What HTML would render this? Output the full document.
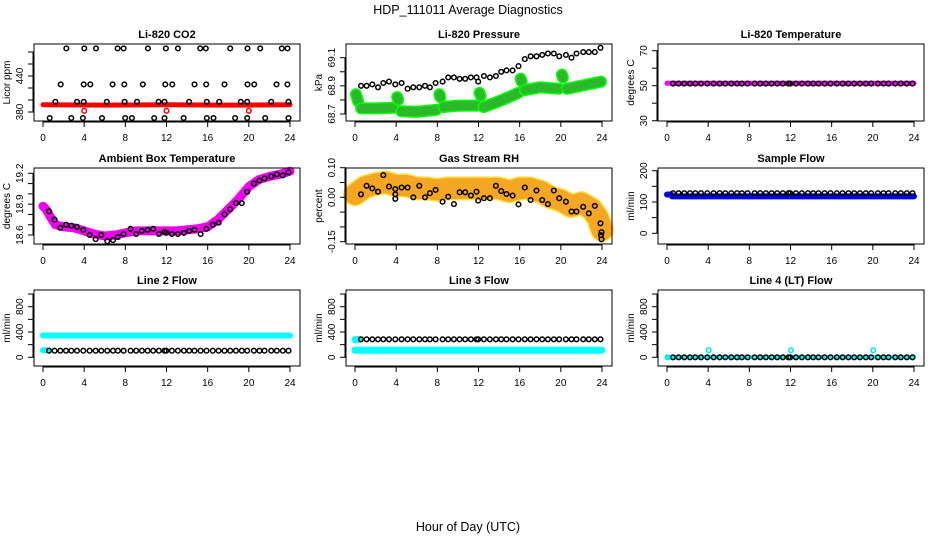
<!DOCTYPE html>
<html><head><meta charset="utf-8"><style>
body{margin:0;background:#fff}
svg{display:block;font-family:"Liberation Sans",sans-serif}
</style></head><body>
<svg id="chart" width="936" height="540" viewBox="0 0 936 540" xmlns="http://www.w3.org/2000/svg">
<rect width="936" height="540" fill="#fff"/>
<text x="468" y="14" font-size="12.5" text-anchor="middle">HDP_111011  Average Diagnostics</text>
<text x="468" y="531" font-size="12.5" text-anchor="middle">Hour of Day (UTC)</text>
</svg>
<script>
const xTicks=[0,4,8,12,16,20,24];
const obsHours=[0.58,1.13,1.68,2.23,2.75,3.30,3.92,4.53,5.11,5.66,6.25,6.80,7.28,7.83,8.51,9.06,9.61,10.16,10.71,11.26,11.81,11.97,12.52,13.11,13.69,14.21,14.72,15.31,15.89,16.50,17.06,17.64,18.19,18.74,19.32,19.84,20.49,21.04,21.52,22.17,22.72,23.30,23.85];
const co2Hrs=[2.26,4.01,5.15,7.25,7.83,10.19,11.94,13.11,15.27,15.82,18.19,19.87,21.1,23.2,23.76,
1.72,3.95,4.6,6.76,7.9,9.7,11.88,12.56,14.72,15.86,17.64,19.87,20.52,22.69,23.75,
1.2,3.3,3.95,6.2,7.93,9.13,11.23,11.81,14.2,15.92,17.12,19.22,19.84,22.17,23.85,
0.65,2.75,3.88,5.73,7.99,8.64,10.8,11.81,13.66,15.92,16.57,18.67,19.84,21.59,23.85];
const co2Vals=[486,486,486,486,486,486,486,486,486,486,486,486,486,486,486,
426,426,426,426,426,426,426,426,426,426,426,426,426,426,426,
397,397,397,397,397,397,397,397,397,397,397,397,397,397,397,
370,370,370,370,370,370,370,370,370,370,370,370,370,370,370];
const co2BandHrs=[0,6,12,18,24];
const co2BandVals=[392,391.5,392,391.5,392];
const co2OutHrs=[4,12,20];
const co2OutVals=[382,382,382];
const presVals=[68.90,68.90,68.91,68.89,68.92,68.93,68.91,68.92,68.88,68.89,68.89,68.90,68.89,68.92,68.93,68.96,68.96,68.95,68.95,68.96,68.96,68.93,68.97,68.96,68.97,69.00,69.01,69.01,69.04,69.09,69.11,69.11,69.12,69.13,69.13,69.11,69.12,69.10,69.13,69.14,69.14,69.14,69.17];
const presBandHrs=[0.1,0.3,null,0.6,2,3.8,null,4.1,4.2,null,4.5,6,7.9,null,8.2,8.3,null,8.6,10,11.9,null,12.1,12.2,null,12.5,14,15.9,null,16.1,16.2,null,16.5,18,19.8,null,20.1,20.2,null,20.6,22,23.9];
const presBandVals=[68.84,68.79,null,68.74,68.74,68.745,null,68.82,68.80,null,68.72,68.715,68.73,null,68.84,68.82,null,68.75,68.76,68.76,null,68.85,68.83,null,68.75,68.79,68.85,null,68.95,68.93,null,68.87,68.89,68.88,null,68.98,68.96,null,68.88,68.90,68.93];
const tempVals=[51.2,51.2,51.2,51.2,51.2,51.2,51.2,51.2,51.2,51.2,51.2,51.2,51.2,51.2,51.2,51.2,51.2,51.2,51.2,51.2,51.2,51.2,51.2,51.2,51.2,51.2,51.2,51.2,51.2,51.2,51.2,51.2,51.2,51.2,51.2,51.2,51.2,51.2,51.2,51.2,51.2,51.2,51.2];
const tempBandHrs=[0,24];
const tempBandVals=[51.4,51.4];
const ambVals=[18.83,18.75,18.67,18.70,18.69,18.68,18.65,18.60,18.56,18.60,18.54,18.55,18.58,18.61,18.66,18.61,18.64,18.65,18.66,18.61,18.63,18.62,18.61,18.61,18.62,18.64,18.65,18.61,18.66,18.70,18.72,18.80,18.85,18.91,18.91,19.02,19.10,19.13,19.15,19.17,19.19,19.18,19.21];
const ambBandHrs=[0,0.3,0.7,1.2,2,3,4,5,6,7,8,9,10,11,12,13,14,15,16,17,18,19,20,21,22,23,24];
const ambBandVals=[18.88,18.85,18.78,18.70,18.68,18.67,18.64,18.61,18.59,18.60,18.62,18.64,18.64,18.64,18.64,18.64,18.65,18.66,18.68,18.75,18.85,18.95,19.07,19.14,19.17,19.19,19.22];
const rhVals=[0.010,0.039,0.030,0.019,0.075,0.036,0.028,0.033,0.033,0.0,0.039,0.0,0.014,0.025,-0.015,0.002,-0.023,0.017,0.017,0.006,0.019,-0.011,-0.003,-0.003,0.039,0.021,0.011,0.006,-0.024,0.033,-0.009,0.023,-0.009,-0.023,0.023,-0.003,-0.015,-0.048,-0.048,-0.032,-0.054,-0.029,-0.088];
const rhExtraHrs=[3.92,3.92,23.9,23.95,23.95];
const rhExtraVals=[0.010,-0.005,-0.128,-0.142,-0.118];
const rhBandHrs=[0,1,2,3,4,5,6,7,8,9,10,11,12,13,14,15,16,17,18,19,20,21,22,23,23.6,24];
const rhBandVals=[0.01,0.035,0.045,0.05,0.04,0.04,0.03,0.03,0.025,0.03,0.03,0.03,0.03,0.03,0.03,0.02,0.03,0.03,0.02,0.0,-0.01,-0.03,-0.02,-0.04,-0.07,-0.11];
const sampVals=[128,128,128,128,128,128,128,128,128,128,128,128,128,128,128,128,128,128,128,128,128,128,128,128,128,128,128,128,128,128,128,128,128,128,128,128,128,128,128,128,128,128,128];
const sampBandHrs=[0,0.4,null,0.5,24];
const sampBandVals=[124,124,null,118,118];
const l2Vals=[105,105,105,105,105,105,105,105,105,105,105,105,105,105,105,105,105,105,105,105,105,105,105,105,105,105,105,105,105,105,105,105,105,105,105,105,105,105,105,105,105,105,105];
const l2BandHrs=[0,0.5,null,0,24];
const l2BandVals=[112,112,null,345,345];
const l3Vals=[284,284,284,284,284,284,284,284,284,284,284,284,284,284,284,284,284,284,284,284,284,284,284,284,284,284,284,284,284,284,284,284,284,284,284,284,284,284,284,284,284,284,284];
const l3BandHrs=[0,0.4,null,0,24];
const l3BandVals=[280,280,null,112,112];
const l4Vals=[0,0,0,0,0,0,0,0,0,0,0,0,0,0,0,0,0,0,0,0,0,0,0,0,0,0,0,0,0,0,0,0,0,0,0,0,0,0,0,0,0,0,0];
const l4BandHrs=[0,24];
const l4BandVals=[0,0];
const l4OutHrs=[0.05,4.05,12.05,20.05];
const l4OutVals=[0,110,110,110];

const svg=document.getElementById('chart');
const NS='http://www.w3.org/2000/svg';
function mk(tag,attrs,parent){const e=document.createElementNS(NS,tag);for(const k in attrs)e.setAttribute(k,attrs[k]);(parent||svg).appendChild(e);return e;}

function panel(o){
  const g=mk('g',{});
  
  
  const L=34+312*o.col, R=L+266, T=o.top, B=o.top+(o.h||77);
  const xs=h=>L+9+h*(247/24);
  const ys=v=>o.p1+(v-o.v1)*(o.p2-o.p1)/(o.v2-o.v1);
  (o.bands||[]).forEach(b=>{
    let segs=[],cur=[];
    for(let i=0;i<b.hrs.length;i++){
      if(b.hrs[i]===null){if(cur.length)segs.push(cur);cur=[];continue;}
      cur.push([xs(b.hrs[i]),ys(b.vals[i])]);
    }
    if(cur.length)segs.push(cur);
    segs.forEach(s=>{
      if(s.length===1)s.push([s[0][0]+0.5,s[0][1]]);
      const d='M'+s.map(p=>p[0].toFixed(1)+','+p[1].toFixed(1)).join('L');
      if(b.edge){const pe=mk('path',{d:d,fill:'none',stroke:b.edge,'stroke-width':b.w+3,'stroke-linecap':'round','stroke-linejoin':'round'},g);
        
        }
      const p=mk('path',{d:d,fill:'none',stroke:b.color,'stroke-width':b.w,'stroke-linecap':'round','stroke-linejoin':'round'},g);
      
      
    });
  });
  (o.pts||[]).forEach(s=>{
    for(let i=0;i<s.hrs.length;i++){
      const c=mk('circle',{cx:xs(s.hrs[i]).toFixed(1),cy:ys(s.vals[i]).toFixed(1),r:2.3,fill:'none',stroke:s.color,'stroke-width':1.5},g);
      
      
    }
  });
  const box=mk('rect',{x:L,y:T,width:R-L,height:B-T,fill:'none',stroke:'#000','stroke-width':1},g);
  
  
  const t=mk('text',{x:(L+R)/2,y:T-6,'font-size':11,'font-weight':'bold','text-anchor':'middle'},g);
  t.textContent=o.title;
  
  
  mk('line',{x1:xs(0),x2:xs(24),y1:B+1,y2:B+1,stroke:'#000'},g);
  xTicks.forEach(v=>{
    mk('line',{x1:xs(v),x2:xs(v),y1:B,y2:B+6,stroke:'#000'},g);
    const tx=mk('text',{x:xs(v),y:B+20,'font-size':10,'text-anchor':'middle'},g);
    tx.textContent=v;
    
    
  });
  const yt=o.yTicks;
  mk('line',{x1:L-1,x2:L-1,y1:ys(yt[0]),y2:ys(yt[yt.length-1]),stroke:'#000'},g);
  yt.forEach(v=>{
    mk('line',{x1:L-6,x2:L,y1:ys(v),y2:ys(v),stroke:'#000'},g);
  });
  o.yLabels.forEach(v=>{
    const y=ys(v);
    const tx=mk('text',{x:L-11,y:y,'font-size':10,'text-anchor':'middle',transform:'rotate(-90 '+(L-11)+' '+y+')'},g);
    tx.textContent=o.fmt?o.fmt(v):v;
    
    
  });
  const yc=(T+B)/2, yx=L-24;
  const yl=mk('text',{x:yx,y:yc,'font-size':10,'text-anchor':'middle',transform:'rotate(-90 '+yx+' '+yc+')'},g);
  yl.textContent=o.ylab;
  
  
}

panel({name:'co2-panel',col:0,top:44,title:'Li-820 CO2',ylab:'Licor ppm',v1:380,p1:112,v2:480,p2:52,
 yTicks:[380,400,420,440,460,480],yLabels:[380,440],
 bands:[{name:'co2-band',hrs:co2BandHrs,vals:co2BandVals,color:'#ff0000',w:5}],
 pts:[{name:'co2-point',hrs:co2Hrs,vals:co2Vals,color:'#000'},{name:'co2-outlier',hrs:co2OutHrs,vals:co2OutVals,color:'#ff0000'}]});
panel({name:'pressure-panel',col:1,top:44,title:'Li-820 Pressure',ylab:'kPa',v1:68.7,p1:114,v2:69.1,p2:57.7,
 yTicks:[68.7,68.8,68.9,69.0,69.1],yLabels:[68.7,68.9,69.1],fmt:v=>v.toFixed(1),
 bands:[{name:'pressure-band',hrs:presBandHrs,vals:presBandVals,color:'#2bb82b',edge:'#00ff00',w:9}],
 pts:[{name:'pressure-point',hrs:obsHours,vals:presVals,color:'#000'}]});
panel({name:'li820-temp-panel',col:2,top:44,title:'Li-820 Temperature',ylab:'degrees C',v1:30,p1:120.7,v2:70,p2:50.7,
 yTicks:[30,40,50,60,70],yLabels:[30,50,70],
 bands:[{name:'li820-temp-band',hrs:tempBandHrs,vals:tempBandVals,color:'#ff00ff',w:5}],
 pts:[{name:'li820-temp-point',hrs:obsHours,vals:tempVals,color:'#000'}]});
panel({name:'ambient-temp-panel',col:0,top:168,h:76,title:'Ambient Box Temperature',ylab:'degrees C',v1:18.6,p1:235,v2:19.2,p2:173.3,
 yTicks:[18.6,18.7,18.8,18.9,19.0,19.1,19.2],yLabels:[18.6,18.9,19.2],fmt:v=>v.toFixed(1),
 bands:[{name:'ambient-temp-band',hrs:ambBandHrs,vals:ambBandVals,color:'#ee00ee',w:9}],
 pts:[{name:'ambient-temp-point',hrs:obsHours,vals:ambVals,color:'#000'}]});
panel({name:'rh-panel',col:1,top:168,h:76,title:'Gas Stream RH',ylab:'percent',v1:0,p1:197.3,v2:0.10,p2:167.7,
 yTicks:[-0.15,-0.10,-0.05,0,0.05,0.10],yLabels:[-0.15,0,0.10],fmt:v=>v.toFixed(2),
 bands:[{name:'rh-band',hrs:rhBandHrs,vals:rhBandVals,color:'#f5a623',edge:'#ffe040',w:21}],
 pts:[{name:'rh-point',hrs:obsHours,vals:rhVals,color:'#000'},{name:'rh-extra-point',hrs:rhExtraHrs,vals:rhExtraVals,color:'#000'}]});
panel({name:'sample-flow-panel',col:2,top:168,h:76,title:'Sample Flow',ylab:'ml/min',v1:0,p1:233.3,v2:200,p2:170.7,
 yTicks:[0,50,100,150,200],yLabels:[0,100,200],
 bands:[{name:'sample-flow-band',hrs:sampBandHrs,vals:sampBandVals,color:'#0000ee',w:6}],
 pts:[{name:'sample-flow-point',hrs:obsHours,vals:sampVals,color:'#000'}]});
panel({name:'line2-flow-panel',col:0,top:290,h:76,title:'Line 2 Flow',ylab:'ml/min',v1:0,p1:357.3,v2:800,p2:306.7,
 yTicks:[0,200,400,600,800,1000],yLabels:[0,400,800],
 bands:[{name:'line2-flow-band',hrs:l2BandHrs,vals:l2BandVals,color:'#00ffff',w:6}],
 pts:[{name:'line2-flow-point',hrs:obsHours,vals:l2Vals,color:'#000'}]});
panel({name:'line3-flow-panel',col:1,top:290,h:76,title:'Line 3 Flow',ylab:'ml/min',v1:0,p1:357.3,v2:800,p2:306.7,
 yTicks:[0,200,400,600,800,1000],yLabels:[0,400,800],
 bands:[{name:'line3-flow-band',hrs:l3BandHrs,vals:l3BandVals,color:'#00ffff',w:7}],
 pts:[{name:'line3-flow-point',hrs:obsHours,vals:l3Vals,color:'#000'}]});
panel({name:'line4-flow-panel',col:2,top:290,h:76,title:'Line 4 (LT) Flow',ylab:'ml/min',v1:0,p1:357.3,v2:800,p2:306.7,
 yTicks:[0,200,400,600,800,1000],yLabels:[0,400,800],
 bands:[{name:'line4-flow-band',hrs:l4BandHrs,vals:l4BandVals,color:'#00ffff',w:4}],
 pts:[{name:'line4-flow-point',hrs:obsHours,vals:l4Vals,color:'#000'},{name:'line4-flow-outlier',hrs:l4OutHrs,vals:l4OutVals,color:'#00e5ee'}]});
</script>
</body></html>
